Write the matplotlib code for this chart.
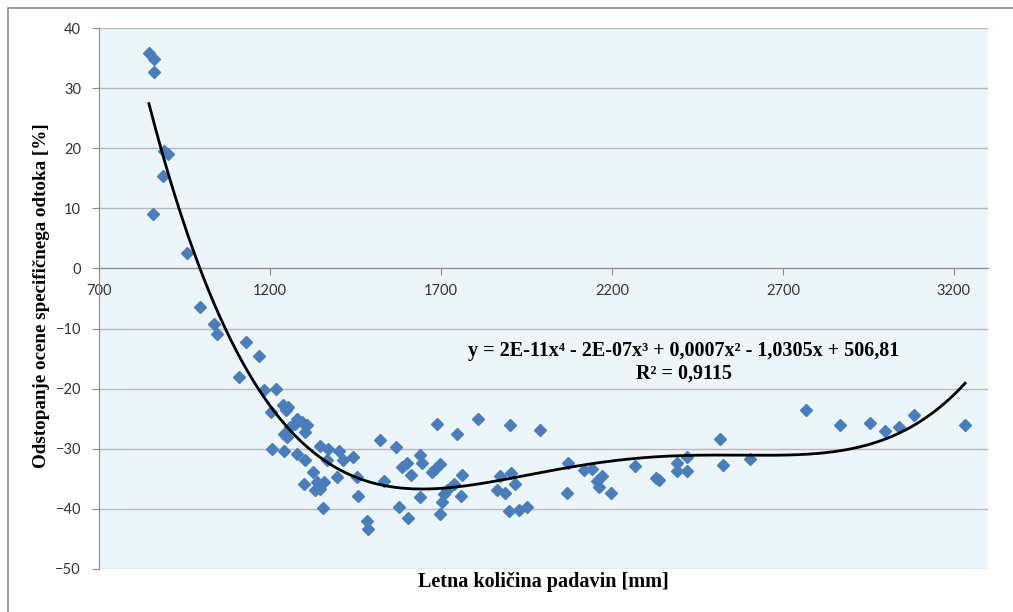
import numpy as np
import matplotlib
matplotlib.use("Agg")
import matplotlib.pyplot as plt
from matplotlib.patches import Rectangle

# letna količina padavin [mm] in odstopanje [%] (odčitano s slike)
padavine = [846, 861, 861, 890, 902, 887, 858, 958, 996, 1035, 1045, 1130, 1169,
            1110, 1183, 1217, 1204, 1238, 1254, 1247, 1279, 1274, 1293, 1308, 1303,
            1240, 1249, 1259, 1206, 1242, 1279, 1303, 1347, 1371, 1403, 1444, 1415,
            1367, 1327, 1300, 1337, 1359, 1347, 1332, 1396, 1456, 1457, 1355, 1484,
            1488, 1521, 1689, 1808, 1903, 1990, 1748, 1569, 1638, 1645, 1601, 1587,
            1612, 1698, 1684, 1674, 1762, 1534, 1739, 1719, 1710, 1640, 1759, 1703,
            1696, 1578, 1605, 1874, 1906, 1918, 1865, 1886, 1898, 1929, 1951, 2071,
            2069, 2118, 2142, 2157, 2172, 2162, 2196, 2269, 2328, 2337, 2389, 2420,
            2389, 2420, 2516, 2526, 2604, 2769, 2867, 2954, 2998, 3040, 3084, 3233]
odstopanje = [35.8, 34.8, 32.6, 19.6, 19.1, 15.3, 9.0, 2.5, -6.4, -9.2, -10.9, -12.3, -14.5,
              -18.1, -20.2, -20.1, -23.9, -22.8, -23.0, -23.6, -25.0, -25.8, -25.6, -26.1, -27.2,
              -27.5, -28.1, -26.4, -30.0, -30.3, -30.8, -31.9, -29.6, -30.0, -30.3, -31.4, -31.9,
              -31.9, -33.9, -35.8, -35.6, -35.6, -36.7, -36.8, -34.7, -34.7, -37.9, -39.9, -42.0,
              -43.3, -28.6, -25.8, -25.1, -26.1, -26.8, -27.6, -29.7, -31.0, -32.4, -32.4, -33.1,
              -34.4, -32.6, -33.3, -33.9, -34.3, -35.4, -35.8, -36.8, -37.5, -38.1, -37.9, -38.9,
              -40.8, -39.7, -41.5, -34.5, -34.1, -35.8, -36.8, -37.4, -40.4, -40.2, -39.7, -32.4,
              -37.4, -33.6, -33.3, -35.3, -34.6, -36.4, -37.4, -32.8, -34.8, -35.2, -32.4, -31.3,
              -33.7, -33.7, -28.3, -32.7, -31.7, -23.5, -26.1, -25.7, -27.0, -26.4, -24.3, -26.1]

x_ticks = [700, 1200, 1700, 2200, 2700, 3200]
y_ticks = [-50, -40, -30, -20, -10, 0, 10, 20, 30, 40]

enacba = "y = 2E-11x\u2074 - 2E-07x\u00b3 + 0,0007x\u00b2 - 1,0305x + 506,81"
r2 = "R\u00b2 = 0,9115"

x = np.array(padavine, dtype=float)
y = np.array(odstopanje, dtype=float)

# polinomski trend 4. stopnje (kot v Excelu)
koef = np.polyfit(x, y, 4)
xt = np.linspace(x.min(), x.max(), 300)
yt = np.polyval(koef, xt)

fig = plt.figure(figsize=(10.13, 6.12), dpi=100)
fig.patch.set_facecolor("white")

# okvir grafa (odrezan desno in spodaj)
fig.patches.append(Rectangle((8 / 1013, -0.05), 1.1, 1 - 8 / 612 + 0.05,
                             transform=fig.transFigure, fill=False,
                             edgecolor="#8c8c8c", linewidth=1.2))

ax = fig.add_axes([99 / 1013, 1 - 569 / 612, (988 - 99) / 1013, (569 - 28) / 612])
ax.set_facecolor("#ecf5f9")

ax.set_xlim(700, 3300)
ax.set_ylim(-50, 40)
ax.set_xticks(x_ticks)
ax.set_yticks(y_ticks)

ax.grid(axis="y", color="#b8b8b8", linewidth=1.0)
ax.set_axisbelow(True)

for s in ["top", "right"]:
    ax.spines[s].set_visible(False)
ax.spines["left"].set_color("#8c8c8c")
ax.spines["bottom"].set_position(("data", 0))
ax.spines["bottom"].set_color("#8c8c8c")

ax.tick_params(axis="y", direction="out", length=5, width=0.8, color="#8c8c8c",
               pad=8, labelsize=10.5, labelcolor="#333333")
ax.tick_params(axis="x", direction="out", length=5, width=0.8, color="#8c8c8c",
               pad=6, labelsize=10.5, labelcolor="#333333")
for lab in ax.get_xticklabels() + ax.get_yticklabels():
    lab.set_family("Lato")

ax.plot(x, y, linestyle="none", marker="D", markersize=5.8,
        color="#4a7ebb", markeredgecolor="#4a7ebb", zorder=3)
ax.plot(xt, yt, color="black", linewidth=2.0, zorder=4)

serif = ["Liberation Serif", "DejaVu Serif"]
ax.text(2410, -13.7, enacba, ha="center", va="center", fontsize=14.5,
        fontweight="bold", family=serif, zorder=5)
ax.text(2410, -17.5, r2, ha="center", va="center", fontsize=14.5,
        fontweight="bold", family=serif, zorder=5)

fig.text(41 / 1013, 1 - 296 / 612, "Odstopanje ocene specifičnega odtoka [%]",
         rotation=90, ha="center", va="center", fontsize=13.7,
         fontweight="bold", family=serif)
fig.text(543 / 1013, 1 - 582 / 612, "Letna količina padavin [mm]",
         ha="center", va="center", fontsize=14.5, fontweight="bold", family=serif)

fig.savefig("out.png", dpi=100)
